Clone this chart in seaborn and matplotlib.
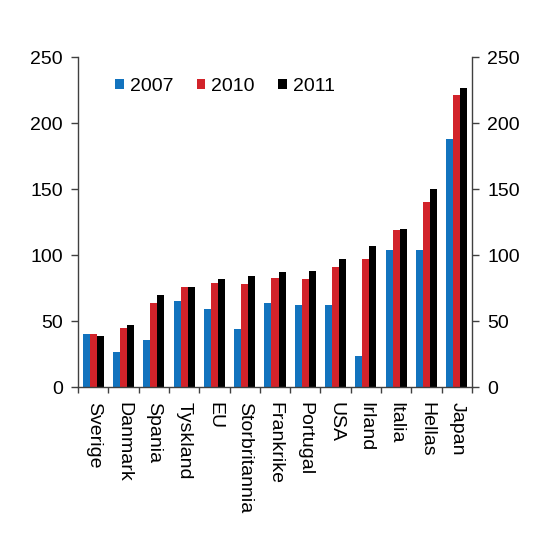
import pandas as pd
import matplotlib
matplotlib.use('Agg')
import matplotlib.pyplot as plt
import seaborn as sns

# Données
land = ['Sverige', 'Danmark', 'Spania', 'Tyskland', 'EU', 'Storbritannia',
        'Frankrike', 'Portugal', 'USA', 'Irland', 'Italia', 'Hellas', 'Japan']
aar = ['2007', '2010', '2011']
v2007 = [40, 27, 36, 65, 59, 44, 64, 62, 62, 24, 104, 104, 188]
v2010 = [40, 45, 64, 76, 79, 78, 83, 82, 91, 97, 119, 140, 221]
v2011 = [39, 47.5, 70, 76, 82, 84, 87, 88, 97, 107, 120, 150, 227]
farger = ['#1273BE', '#D2232A', '#000000']

df = pd.DataFrame({
    'Land': land * 3,
    'Aar': [a for a in aar for _ in land],
    'Verdi': v2007 + v2010 + v2011,
})

sns.set_style('white')
plt.rcParams['font.family'] = ['Liberation Sans', 'DejaVu Sans']
plt.rcParams['text.color'] = 'black'
plt.rcParams['xtick.color'] = 'black'
plt.rcParams['ytick.color'] = 'black'

fig = plt.figure(figsize=(5.5, 5.5), dpi=100)
ax = fig.add_axes([0.142, 0.296, 0.716, 0.6])

sns.barplot(data=df, x='Land', y='Verdi', hue='Aar', palette=farger,
            width=0.7, saturation=1, linewidth=0, ax=ax, errorbar=None)

ax.set_ylim(0, 250)
ax.set_yticks([0, 50, 100, 150, 200, 250])
ax.set_xlim(-0.5, len(land) - 0.5)
ax.set_xlabel('')
ax.set_ylabel('')

# Graduations entre les catégories
ax.set_xticks([i + 0.5 for i in range(-1, len(land))], minor=True)
ax.set_xticks(range(len(land)))
ax.set_xticklabels(land, rotation=-90, fontsize=14)
ax.tick_params(axis='x', which='major', length=0, pad=11)
ax.tick_params(axis='x', which='minor', length=4, width=1, direction='out',
               bottom=True, color='#404040')
ax.tick_params(axis='y', which='major', length=5, width=1, direction='out',
               left=True, right=True, labelleft=True, labelright=True,
               labelsize=14, color='#404040', pad=6)

for s in ['left', 'right', 'bottom']:
    ax.spines[s].set_visible(True)
    ax.spines[s].set_color('#404040')
    ax.spines[s].set_linewidth(1)
ax.spines['top'].set_visible(False)

ax.legend(title=None, ncol=3, frameon=False, loc='upper left',
          bbox_to_anchor=(0.05, 0.99), fontsize=14, handlelength=0.45,
          handleheight=0.45, handletextpad=0.3, columnspacing=1.2)

plt.savefig('out.png', dpi=100)
